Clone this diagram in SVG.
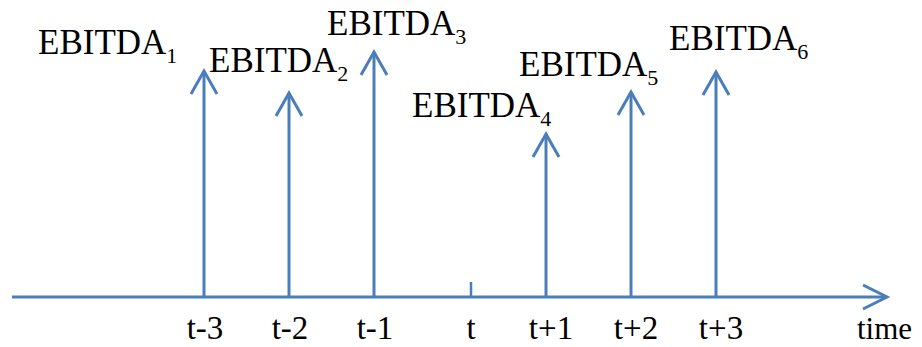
<svg xmlns="http://www.w3.org/2000/svg" width="922" height="347" viewBox="0 0 922 347">
<defs>
<style>
.ln{stroke:#4A7EBB;stroke-width:3;fill:none;stroke-linecap:butt;stroke-linejoin:miter}
.tk{stroke:#4A7EBB;stroke-width:2.5;fill:none}
.lbl{font-family:"Liberation Serif","Times New Roman",serif;font-size:35px;fill:#000}
.sub{font-size:22px}
.tl{font-family:"Liberation Serif","Times New Roman",serif;font-size:33px;fill:#000;text-anchor:middle}
</style>
</defs>
<rect width="922" height="347" fill="#fff"/>
<g id="connectors">
<g id="axis">
<line class="ln" x1="12" y1="297" x2="886" y2="297"/>
<polyline class="ln" points="863,285 887,297 863,309"/>
<line class="tk" x1="471" y1="282" x2="471" y2="297"/>
</g>
<g id="arrow1"><line class="ln" x1="204" y1="297" x2="204" y2="71"/><polyline class="ln" points="191,94 204,71 217,94"/></g>
<g id="arrow2"><line class="ln" x1="289" y1="297" x2="289" y2="93"/><polyline class="ln" points="276,116 289,93 302,116"/></g>
<g id="arrow3"><line class="ln" x1="374" y1="297" x2="374" y2="52"/><polyline class="ln" points="361,75 374,52 387,75"/></g>
<g id="arrow4"><line class="ln" x1="546" y1="297" x2="546" y2="134"/><polyline class="ln" points="533,157 546,134 559,157"/></g>
<g id="arrow5"><line class="ln" x1="631" y1="297" x2="631" y2="92"/><polyline class="ln" points="618,115 631,92 644,115"/></g>
<g id="arrow6"><line class="ln" x1="716" y1="297" x2="716" y2="72"/><polyline class="ln" points="703,95 716,72 729,95"/></g>
</g>
<g id="label1"><text class="lbl" x="38" y="54">EBITDA<tspan class="sub" dy="9">1</tspan></text></g>
<g id="label2"><text class="lbl" x="209" y="72">EBITDA<tspan class="sub" dy="9">2</tspan></text></g>
<g id="label3"><text class="lbl" x="327" y="35">EBITDA<tspan class="sub" dy="9">3</tspan></text></g>
<g id="label4"><text class="lbl" x="412" y="117">EBITDA<tspan class="sub" dy="9">4</tspan></text></g>
<g id="label5"><text class="lbl" x="519" y="76">EBITDA<tspan class="sub" dy="9">5</tspan></text></g>
<g id="label6"><text class="lbl" x="669" y="50">EBITDA<tspan class="sub" dy="9">6</tspan></text></g>
<g id="ticks">
<text class="tl" x="205" y="339">t-3</text>
<text class="tl" x="290" y="339">t-2</text>
<text class="tl" x="375" y="339">t-1</text>
<text class="tl" x="471" y="339">t</text>
<text class="tl" x="551" y="339">t+1</text>
<text class="tl" x="636" y="339">t+2</text>
<text class="tl" x="721" y="339">t+3</text>
<text class="tl" x="857" y="339" style="text-anchor:start;font-size:31px">time</text>
</g>
</svg>
